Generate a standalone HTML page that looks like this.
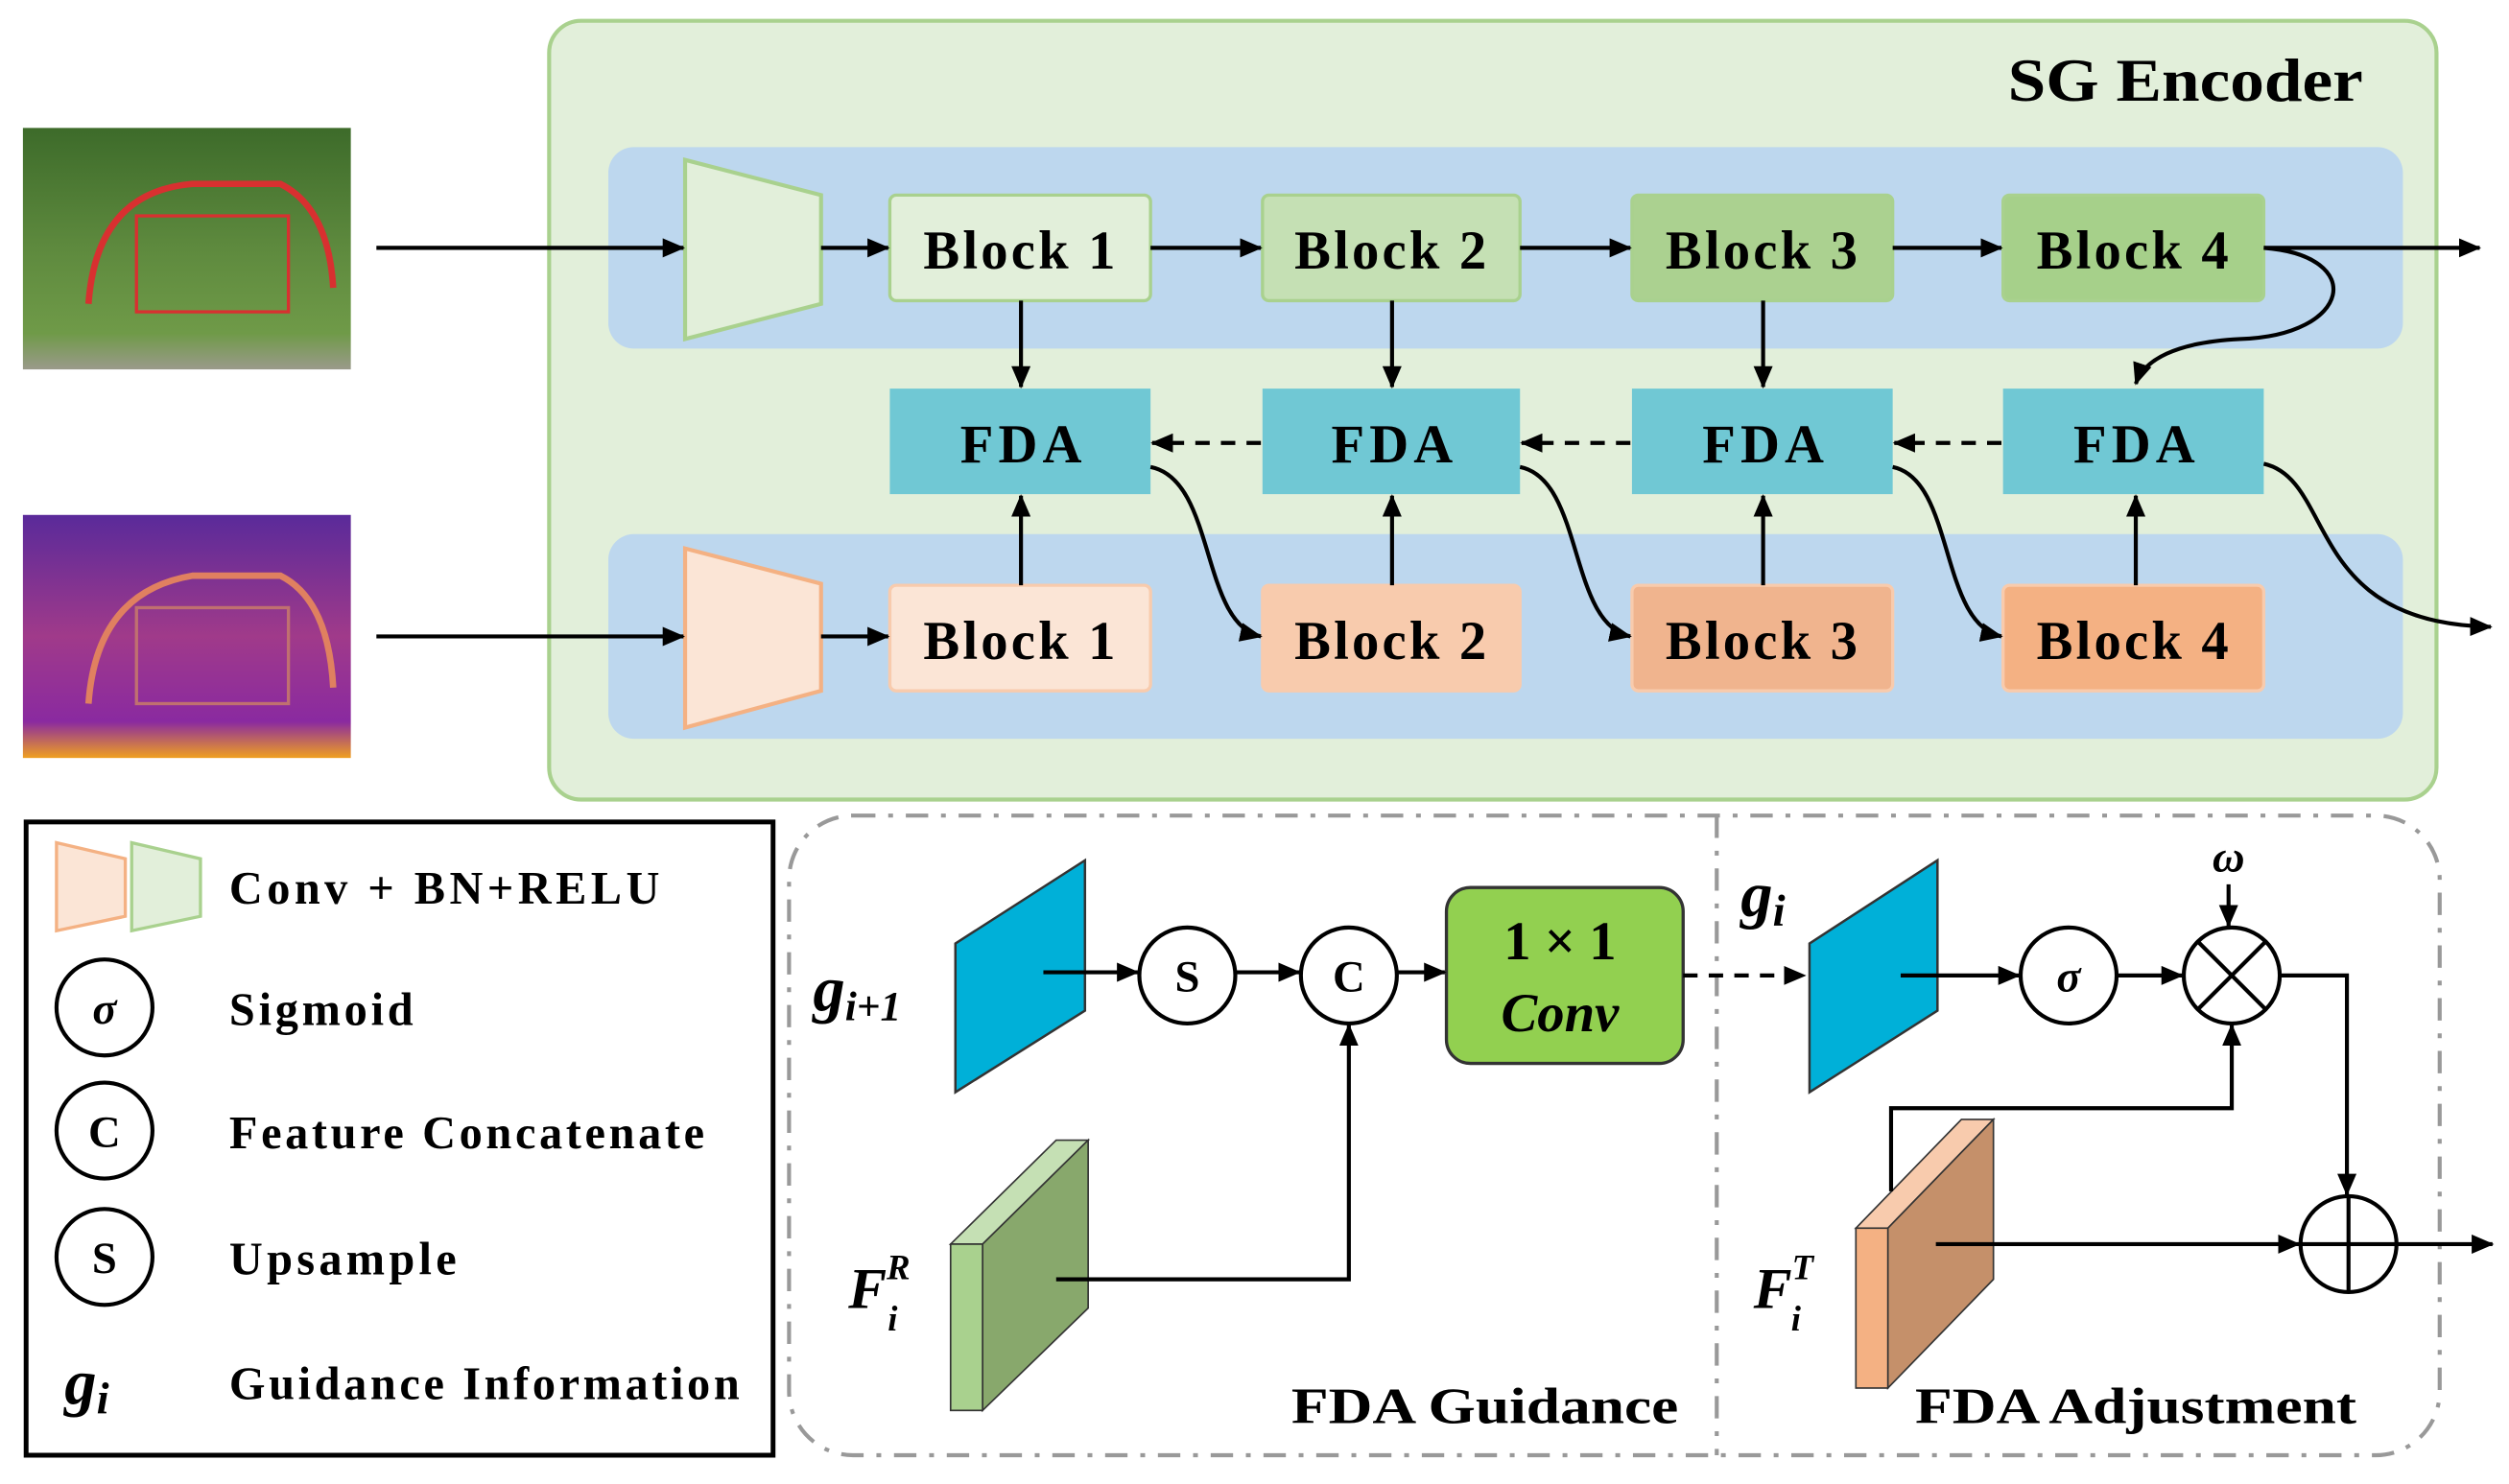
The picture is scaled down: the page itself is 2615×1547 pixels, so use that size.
<!DOCTYPE html>
<html><head><meta charset="utf-8"><style>html,body{margin:0;padding:0;background:#fff}svg{display:block}svg text,svg tspan{font-family:"Liberation Serif","DejaVu Serif",serif;font-weight:bold}</style></head><body>
<svg width="2615" height="1547" viewBox="0 0 1568 928" xmlns="http://www.w3.org/2000/svg" font-family="Liberation Serif, DejaVu Serif, serif" font-weight="bold">
<defs>
<marker id="a" markerWidth="14" markerHeight="12" refX="13" refY="6" orient="auto" markerUnits="userSpaceOnUse"><path d="M0,0 L14,6 L0,12 z" fill="#000"/></marker>
<linearGradient id="g1" x1="0" y1="0" x2="0" y2="1"><stop offset="0" stop-color="#3d6b2a"/><stop offset="0.5" stop-color="#5e8a3e"/><stop offset="0.85" stop-color="#6f9a48"/><stop offset="1" stop-color="#9a9a8a"/></linearGradient>
<linearGradient id="g2" x1="0" y1="0" x2="0" y2="1"><stop offset="0" stop-color="#5a2a9a"/><stop offset="0.5" stop-color="#a03a8a"/><stop offset="0.85" stop-color="#8a2aa0"/><stop offset="1" stop-color="#f0a020"/></linearGradient>
</defs>
<rect x="343" y="13" width="1180" height="487" rx="20" fill="#e2efda" stroke="#a9d18e" stroke-width="2.5"/>
<text x="1255" y="63" font-size="38" textLength="222" lengthAdjust="spacingAndGlyphs">SG Encoder</text>
<rect x="380" y="92" width="1122" height="126" rx="16" fill="#bdd7ee"/>
<rect x="380" y="334" width="1122" height="128" rx="16" fill="#bdd7ee"/>
<rect x="14" y="80" width="205" height="151" fill="url(#g1)"/>
<path d="M55,190 Q60,120 120,115 L175,115 Q205,130 208,180" fill="none" stroke="#d83030" stroke-width="4"/>
<rect x="85" y="135" width="95" height="60" fill="none" stroke="#d83030" stroke-width="2"/>
<rect x="14" y="322" width="205" height="152" fill="url(#g2)"/>
<path d="M55,440 Q60,370 120,360 L175,360 Q205,375 208,430" fill="none" stroke="#e08060" stroke-width="4"/>
<rect x="85" y="380" width="95" height="60" fill="none" stroke="#c07070" stroke-width="2"/>
<polygon points="428,100 513,122 513,190 428,212" fill="#e2efda" stroke="#a9d18e" stroke-width="2.5"/>
<polygon points="428,343 513,365 513,432 428,455" fill="#fbe5d6" stroke="#f4b183" stroke-width="2.5"/>
<g font-size="34" lengthAdjust="spacingAndGlyphs">
<rect x="556" y="122" width="163" height="66" rx="4" fill="#e2efda" stroke="#a9d18e" stroke-width="2"/><text x="577" y="168" textLength="120">Block 1</text>
<rect x="789" y="122" width="161" height="66" rx="4" fill="#c5e0b4" stroke="#a9d18e" stroke-width="2"/><text x="809" y="168" textLength="120">Block 2</text>
<rect x="1020" y="122" width="163" height="66" rx="4" fill="#abd190" stroke="#a9d18e" stroke-width="2"/><text x="1041" y="168" textLength="120">Block 3</text>
<rect x="1252" y="122" width="163" height="66" rx="4" fill="#a6d08a" stroke="#a9d18e" stroke-width="2"/><text x="1273" y="168" textLength="120">Block 4</text>
<rect x="556" y="243" width="163" height="66" fill="#70c8d4"/><text x="600" y="289" textLength="76">FDA</text>
<rect x="789" y="243" width="161" height="66" fill="#70c8d4"/><text x="832" y="289" textLength="76">FDA</text>
<rect x="1020" y="243" width="163" height="66" fill="#70c8d4"/><text x="1064" y="289" textLength="76">FDA</text>
<rect x="1252" y="243" width="163" height="66" fill="#70c8d4"/><text x="1296" y="289" textLength="76">FDA</text>
<rect x="556" y="366" width="163" height="66" rx="4" fill="#fbe5d6" stroke="#f8cbad" stroke-width="2"/><text x="577" y="412" textLength="120">Block 1</text>
<rect x="789" y="366" width="161" height="66" rx="4" fill="#f8cbad" stroke="#f8cbad" stroke-width="2"/><text x="809" y="412" textLength="120">Block 2</text>
<rect x="1020" y="366" width="163" height="66" rx="4" fill="#f0b48e" stroke="#f8cbad" stroke-width="2"/><text x="1041" y="412" textLength="120">Block 3</text>
<rect x="1252" y="366" width="163" height="66" rx="4" fill="#f4b183" stroke="#f8cbad" stroke-width="2"/><text x="1273" y="412" textLength="120">Block 4</text>
</g>
<g stroke="#000" stroke-width="2.5" fill="none" marker-end="url(#a)">
<line x1="235" y1="155" x2="427" y2="155"/><line x1="513" y1="155" x2="555" y2="155"/>
<line x1="719" y1="155" x2="788" y2="155"/><line x1="950" y1="155" x2="1019" y2="155"/>
<line x1="1183" y1="155" x2="1251" y2="155"/><line x1="1415" y1="155" x2="1550" y2="155"/>
<line x1="235" y1="398" x2="427" y2="398"/><line x1="513" y1="398" x2="555" y2="398"/>
<line x1="638" y1="188" x2="638" y2="242"/><line x1="870" y1="188" x2="870" y2="242"/><line x1="1102" y1="188" x2="1102" y2="242"/>
<line x1="638" y1="366" x2="638" y2="310"/><line x1="870" y1="366" x2="870" y2="310"/><line x1="1102" y1="366" x2="1102" y2="310"/><line x1="1335" y1="366" x2="1335" y2="310"/>
<path d="M1415,155 C1480,160 1470,210 1400,212 C1360,214 1340,225 1335,240"/>
<path d="M719,292 C760,300 750,390 788,398"/>
<path d="M950,292 C990,300 980,390 1019,398"/>
<path d="M1183,292 C1222,300 1212,390 1251,398"/>
<path d="M1415,290 C1460,300 1440,390 1557,392"/>
<g stroke-dasharray="9,7"><line x1="788" y1="277" x2="720" y2="277"/><line x1="1019" y1="277" x2="951" y2="277"/><line x1="1251" y1="277" x2="1184" y2="277"/></g>
</g>
<rect x="16" y="514" width="467" height="396" fill="#fff" stroke="#000" stroke-width="3"/>
<polygon points="35,527 78,537 78,573 35,582" fill="#fbe5d6" stroke="#f4b183" stroke-width="2"/>
<polygon points="82,527 125,537 125,573 82,582" fill="#e2efda" stroke="#a9d18e" stroke-width="2"/>
<g fill="#fff" stroke="#000" stroke-width="2.5"><circle cx="65" cy="630" r="30"/><circle cx="65" cy="707" r="30"/><circle cx="65" cy="786" r="30"/></g>
<g font-size="28" text-anchor="middle"><text x="65" y="640" font-style="italic">σ</text><text x="65" y="717">C</text><text x="65" y="796">S</text></g>
<text x="40" y="878" font-size="40" font-style="italic">g<tspan font-size="28" dy="6">i</tspan></text>
<g font-size="29" lengthAdjust="spacingAndGlyphs"><text x="143" y="565" textLength="269">Conv + BN+RELU</text><text x="143" y="641" textLength="115">Sigmoid</text><text x="143" y="718" textLength="297">Feature Concatenate</text><text x="143" y="797" textLength="142">Upsample</text><text x="143" y="875" textLength="319">Guidance Information</text></g>
<rect x="493" y="510" width="1032" height="400" rx="40" fill="none" stroke="#999" stroke-width="2.5" stroke-dasharray="14,8,3,8"/>
<line x1="1073" y1="510" x2="1073" y2="910" stroke="#999" stroke-width="2.5" stroke-dasharray="14,8,3,8"/>
<text x="508" y="632" font-size="40" font-style="italic">g<tspan font-size="26" dy="6">i+1</tspan></text>
<polygon points="597,590 678,538 678,632 597,683" fill="#00b0d8" stroke="#333" stroke-width="1.5"/>
<polygon points="594,778 660,713 680,713 614,778" fill="#c5e0b4" stroke="#333" stroke-width="1"/>
<polygon points="614,778 680,713 680,818 614,882" fill="#88a86c" stroke="#333" stroke-width="1"/>
<rect x="594" y="778" width="20" height="104" fill="#a9d18e" stroke="#333" stroke-width="1"/>
<text x="530" y="818" font-size="36" font-style="italic">F<tspan font-size="22" dy="-18">R</tspan><tspan font-size="22" dx="-14" dy="32">i</tspan></text>
<g fill="#fff" stroke="#000" stroke-width="2.5"><circle cx="742" cy="610" r="30"/><circle cx="843" cy="610" r="30"/><circle cx="1293" cy="610" r="30"/><circle cx="1395" cy="610" r="30"/><circle cx="1468" cy="778" r="30"/></g>
<g stroke="#000" stroke-width="2.5"><line x1="1374" y1="589" x2="1416" y2="631"/><line x1="1416" y1="589" x2="1374" y2="631"/><line x1="1438" y1="778" x2="1498" y2="778"/><line x1="1468" y1="748" x2="1468" y2="808"/></g>
<g font-size="28" text-anchor="middle"><text x="742" y="620">S</text><text x="843" y="620">C</text><text x="1293" y="620" font-style="italic">σ</text><text x="1393" y="545" font-style="italic">ω</text></g>
<rect x="904" y="555" width="148" height="110" rx="15" fill="#92d050" stroke="#333" stroke-width="2"/>
<text x="975" y="600" font-size="34" text-anchor="middle">1 × 1</text>
<text x="975" y="645" font-size="34" text-anchor="middle" font-style="italic">Conv</text>
<text x="1088" y="573" font-size="40" font-style="italic">g<tspan font-size="28" dy="6">i</tspan></text>
<polygon points="1131,590 1211,538 1211,632 1131,683" fill="#00b0d8" stroke="#333" stroke-width="1.5"/>
<polygon points="1160,768 1226,700 1246,700 1180,768" fill="#f8cbad" stroke="#333" stroke-width="1"/>
<polygon points="1180,768 1246,700 1246,800 1180,868" fill="#c5906a" stroke="#333" stroke-width="1"/>
<rect x="1160" y="768" width="20" height="100" fill="#f4b183" stroke="#333" stroke-width="1"/>
<text x="1096" y="818" font-size="36" font-style="italic">F<tspan font-size="22" dy="-18">T</tspan><tspan font-size="22" dx="-14" dy="32">i</tspan></text>
<g stroke="#000" stroke-width="2.5" fill="none" marker-end="url(#a)">
<line x1="652" y1="608" x2="711" y2="608"/><line x1="772" y1="608" x2="812" y2="608"/><line x1="873" y1="608" x2="903" y2="608"/>
<polyline points="660,800 843,800 843,641"/>
<line x1="1052" y1="610" x2="1128" y2="610" stroke-dasharray="9,7"/>
<line x1="1188" y1="610" x2="1262" y2="610"/><line x1="1323" y1="610" x2="1364" y2="610"/>
<line x1="1393" y1="553" x2="1393" y2="579"/>
<polyline points="1425,610 1467,610 1467,747"/>
<polyline points="1182,745 1182,693 1395,693 1395,641"/>
<line x1="1210" y1="778" x2="1437" y2="778"/>
<line x1="1498" y1="778" x2="1558" y2="778"/>
</g>
<text x="807" y="890" font-size="32" textLength="242" lengthAdjust="spacingAndGlyphs">FDA Guidance</text>
<text x="1197" y="890" font-size="32" textLength="276" lengthAdjust="spacingAndGlyphs">FDA Adjustment</text>
</svg>
</body></html>
